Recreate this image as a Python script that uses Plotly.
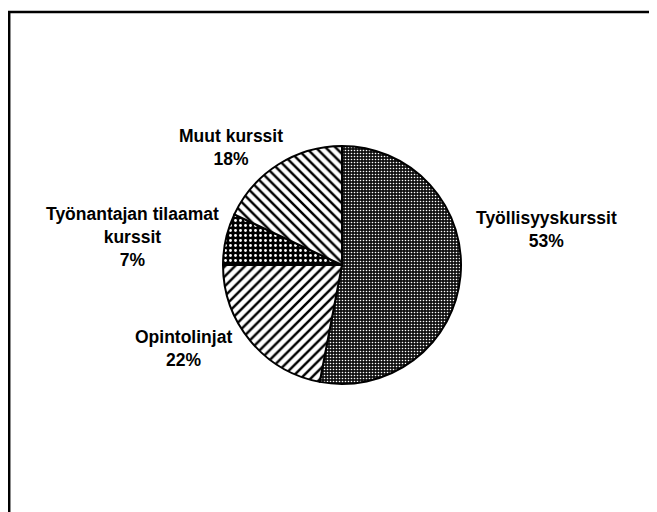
import plotly.graph_objects as go

labels = ["Työllisyyskurssit", "Opintolinjat", "Työnantajan tilaamat kurssit", "Muut kurssit"]
values = [53, 22, 7, 18]
label_texts = ["Työllisyyskurssit<br>53%", "Opintolinjat<br>22%",
               "Työnantajan tilaamat<br>kurssit<br>7%", "Muut kurssit<br>18%"]

OFF = 8  # page body margin
W, H = 657 - OFF, 512 - OFF

def px(x):
    return (x - OFF) / W

def py(y):
    return 1 - (y - OFF) / H

fig = go.Figure()
fig.add_trace(go.Pie(
    labels=labels, values=values, sort=False, direction="clockwise", rotation=0,
    textinfo="none", hoverinfo="label+percent", showlegend=False,
    domain=dict(x=[px(342 - 119), px(342 + 119)], y=[py(384), py(146)]),
    marker=dict(
        colors=["#111111", "white", "black", "white"],
        line=dict(color="black", width=2),
        pattern=dict(
            shape=[".", "/", ".", "\\"],
            fgcolor=["white", "black", "white", "black"],
            bgcolor=["#111111", "white", "black", "white"],
            size=[3, 7, 5, 7],
            solidity=[0.22, 0.35, 0.25, 0.35],
            fillmode="replace",
        ),
    ),
))

pos = [(546, 229), (183, 348), (132, 237), (231, 147.5)]
for t, (x, y) in zip(label_texts, pos):
    fig.add_annotation(x=px(x), y=py(y), xref="paper", yref="paper", text="<b>" + t + "</b>",
                       showarrow=False, align="center", xanchor="center", yanchor="middle",
                       font=dict(family="Liberation Sans", size=17.5, color="black"))

fig.add_shape(type="rect", xref="paper", yref="paper",
              x0=px(9.2), x1=1.05, y0=-0.05, y1=py(12),
              line=dict(color="black", width=2.5))

fig.update_layout(width=W, height=H, margin=dict(l=0, r=0, t=0, b=0),
                  paper_bgcolor="white", plot_bgcolor="white",
                  font=dict(family="Liberation Sans"))
fig.write_html("out.html")
